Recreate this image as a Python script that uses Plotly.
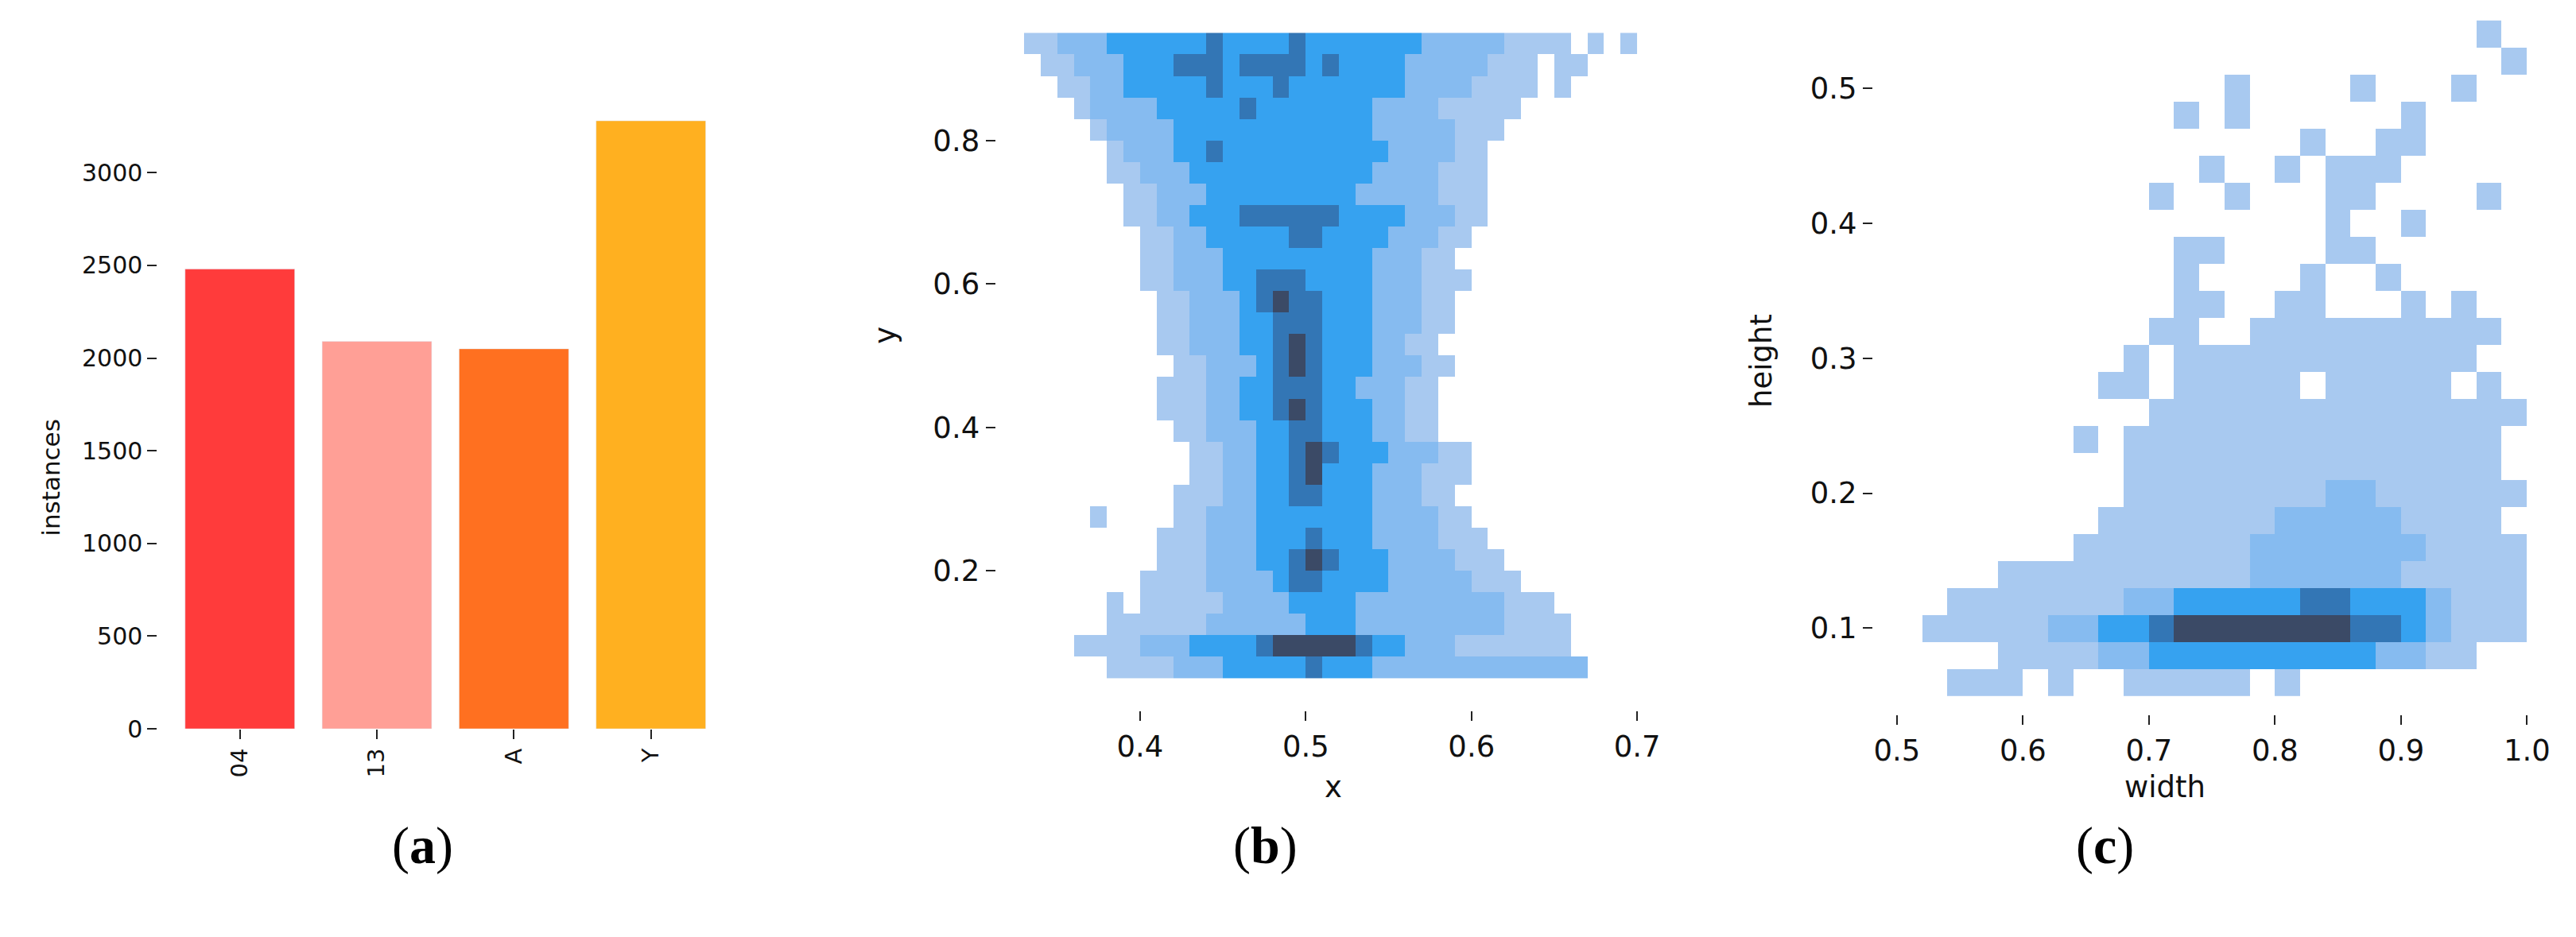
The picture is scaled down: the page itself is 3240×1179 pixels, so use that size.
import plotly.graph_objects as go

# ______________________________________________________________________________
# DATA
# ______________________________________________________________________________

classes = ['04', '13', 'A', 'Y']
instances = [2480, 2090, 2050, 3280]
bar_colours = ['#ff3b3b', '#ff9f96', '#ff7020', '#ffb020']

# panel (b): density level per cell, rows from y=0.95 down to y=0.05 (step 0.03),
# columns from x=0.33 (step 0.01)
xy_rows = [
    "1122233333343333433333332222211110101",
    "0112223334443444434333322222111011000",
    "0011223333343334333333322221111010000",
    "0001222233333433333332222111110000000",
    "0000122223333333333332222211100000000",
    "0000012223343333333333222211000000000",
    "0000011222333333333332222111000000000",
    "0000001122233333333322222111000000000",
    "0000001122333444444333322211000000000",
    "0000000112233333443333222110000000000",
    "0000000112223333333332221100000000000",
    "0000000112223344433332221110000000000",
    "0000000011222345443332221100000000000",
    "0000000011222334443332221100000000000",
    "0000000011222334543332211000000000000",
    "0000000001122234543332221100000000000",
    "0000000011122334443322211000000000000",
    "0000000011122334543332211000000000000",
    "0000000001122233443332211000000000000",
    "0000000000112233454333222110000000000",
    "0000000000112233453332221110000000000",
    "0000000001112233443332221100000000000",
    "0000100001122233333332222110000000000",
    "0000000011122233343332222111000000000",
    "0000000011122233454333222211100000000",
    "0000000111122223443333222221110000000",
    "0000010111112222333322222222211100000",
    "0000011111122222233322222222211110000",
    "0001111222333345555543322211111110000",
    "0000011112223333343332222222222222000",
]

# panel (c): rows from height=0.55 down to 0.05 (step 0.02), columns from width=0.50 (step 0.02)
wh_rows = [
    "0000000000000000000000010",
    "0000000000000000000000001",
    "0000000000000100001000100",
    "0000000000010100000010000",
    "0000000000000000100110000",
    "0000000000001001011100000",
    "0000000000100100011000010",
    "0000000000000000010010000",
    "0000000000011000011000000",
    "0000000000010000100100000",
    "0000000000011001100010100",
    "0000000000110011111111110",
    "0000000001011111111111100",
    "0000000011011111011111010",
    "0000000000111111111111111",
    "0000000101111111111111110",
    "0000000001111111111111110",
    "0000000001111111122111111",
    "0000000011111112222211110",
    "0000000111111122222221111",
    "0000111111111122222211111",
    "0011111112233333443332111",
    "0111112233455555554432111",
    "0000111122333333333221100",
    "0011101001111101000000000",
]


def to_matrix(rows):
    # bottom row first for the heatmap, 0 -> empty cell
    return [[None if ch == '0' else int(ch) for ch in r] for r in reversed(rows)]


scale = [[0.0, '#a8c9f0'], [0.25, '#86bbf0'], [0.5, '#36a2f0'],
         [0.75, '#3376b5'], [1.0, '#3b4a66']]

fig = go.Figure()

fig.add_trace(go.Bar(x=classes, y=instances, marker_color=bar_colours,
                     width=0.8, xaxis='x', yaxis='y', showlegend=False))

fig.add_trace(go.Heatmap(z=to_matrix(xy_rows), x0=0.335, dx=0.01, y0=0.065, dy=0.03,
                         colorscale=scale, zmin=1, zmax=5, showscale=False,
                         xaxis='x2', yaxis='y2'))

fig.add_trace(go.Heatmap(z=to_matrix(wh_rows), x0=0.51, dx=0.02, y0=0.06, dy=0.02,
                         colorscale=scale, zmin=1, zmax=5, showscale=False,
                         xaxis='x3', yaxis='y3'))

font = dict(family='DejaVu Sans', size=37, color='#111')
ax = dict(showgrid=False, zeroline=False, showline=False, ticks='outside',
          ticklen=12, tickwidth=2, tickcolor='#222', tickfont=font)

fig.update_layout(
    width=3240, height=1179, margin=dict(l=0, r=0, t=0, b=0),
    paper_bgcolor='white', plot_bgcolor='white',
    xaxis=dict(ax, domain=[0.059, 0.278], range=[-0.6, 3.5], tickangle=-90,
               tickfont=dict(family='DejaVu Sans', size=29, color='#111')),
    yaxis=dict(ax, domain=[0.217, 0.880], range=[0, 3300],
               tickvals=[0, 500, 1000, 1500, 2000, 2500, 3000],
               tickfont=dict(family='DejaVu Sans', size=30, color='#111')),
    xaxis2=dict(ax, domain=[0.3858, 0.6423], range=[0.313, 0.71],
                tickvals=[0.4, 0.5, 0.6, 0.7], tickformat='.1f', anchor='y2'),
    yaxis2=dict(ax, domain=[0.2366, 0.979], range=[0.005, 0.96],
                tickvals=[0.2, 0.4, 0.6, 0.8], tickformat='.1f', anchor='x2'),
    xaxis3=dict(ax, domain=[0.7278, 0.9877], range=[0.481, 1.01],
                tickvals=[0.5, 0.6, 0.7, 0.8, 0.9, 1.0], tickformat='.1f', anchor='y3'),
    yaxis3=dict(ax, domain=[0.2324, 0.992], range=[0.036, 0.555],
                tickvals=[0.1, 0.2, 0.3, 0.4, 0.5], tickformat='.1f', anchor='x3'),
)

labels = [
    ('instances', 36, 602, -90, 31),
    ('y', 1110, 420, -90, 37),
    ('x', 1676, 1022, 0, 37),
    ('height', 2240, 453, -90, 37),
    ('width', 2780, 1022, 0, 37),
]
for txt, px, py, ang, sz in labels:
    fig.add_annotation(text=txt, x=px / 3240, y=1 - py / 1179, xref='paper', yref='paper',
                       showarrow=False, textangle=ang,
                       font=dict(family='DejaVu Sans', size=sz, color='#111'))

for letter, px in [('a', 485), ('b', 1590), ('c', 2690)]:
    fig.add_annotation(text=f'(<b>{letter}</b>)', x=px / 3240, y=1 - 1112 / 1179,
                       xref='paper', yref='paper', showarrow=False,
                       font=dict(family='Liberation Serif', size=66, color='black'))

fig.write_html("out.html")
